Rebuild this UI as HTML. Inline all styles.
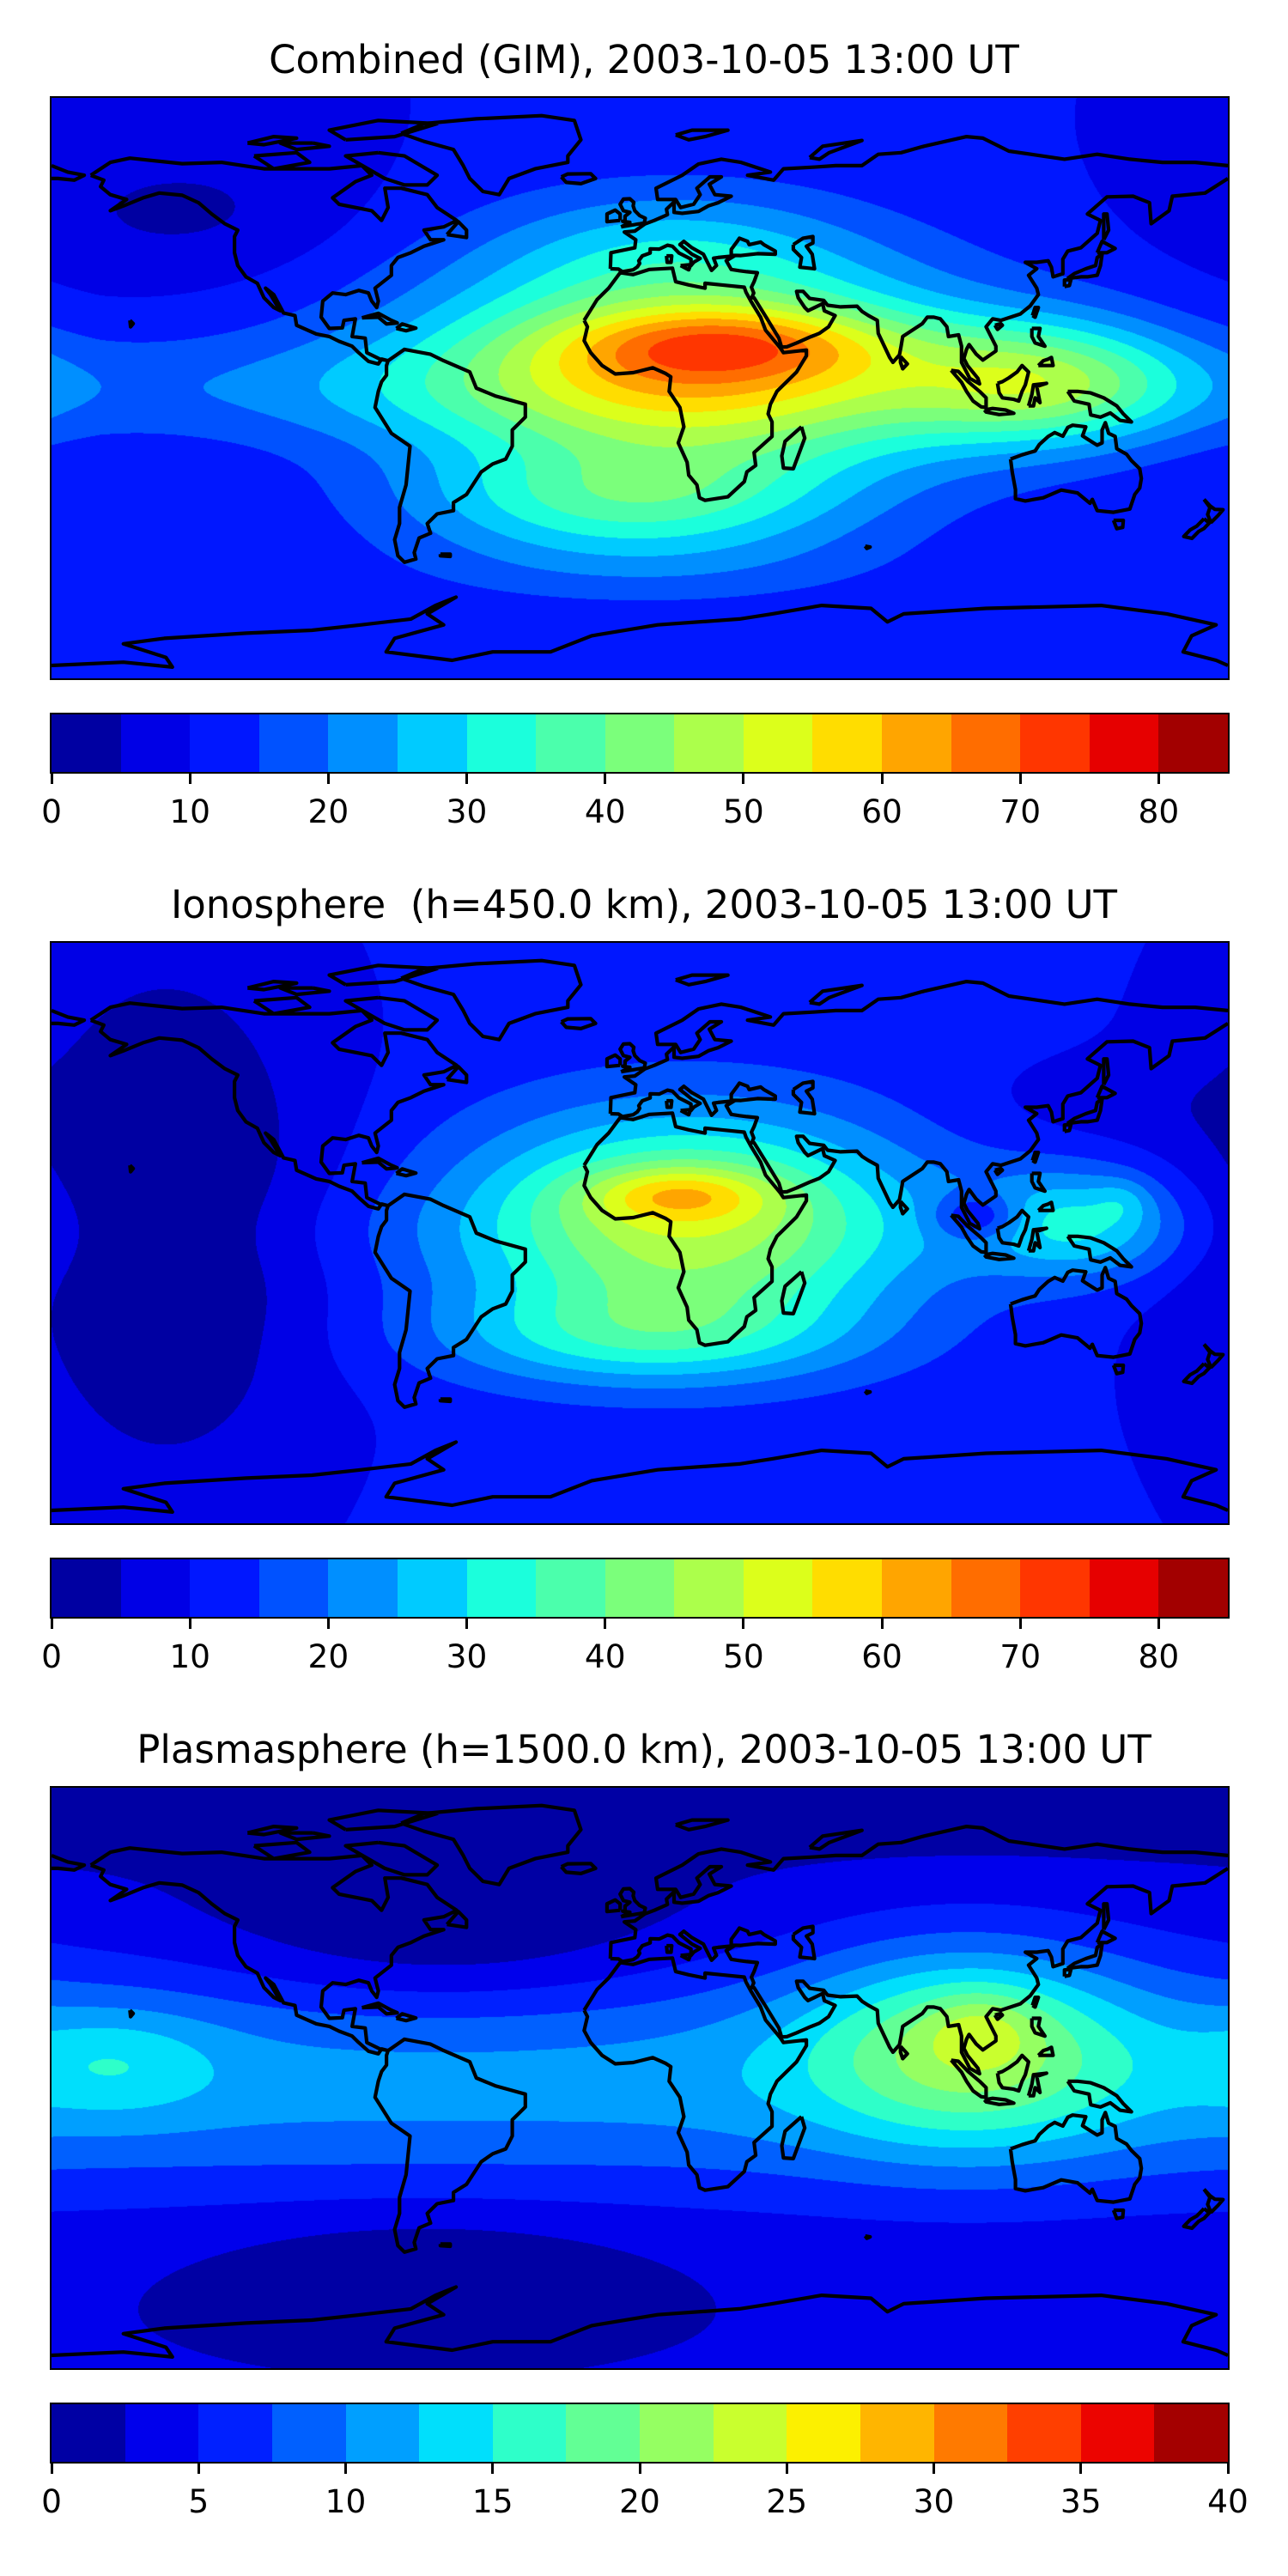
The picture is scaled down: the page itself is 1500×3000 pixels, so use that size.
<!DOCTYPE html>
<html><head><meta charset="utf-8">
<style>
html,body{margin:0;padding:0;background:#fff;}
body{width:1500px;height:3000px;position:relative;overflow:hidden;font-family:"DejaVu Sans","Liberation Sans",sans-serif;}
.title{position:absolute;left:0;width:1500px;text-align:center;font-size:45px;line-height:54px;color:#000;white-space:pre;}
.map{position:absolute;left:60px;width:1370px;height:676px;}
.map canvas{position:absolute;left:0;top:0;}
.map svg{position:absolute;left:0;top:0;}
.frame{position:absolute;left:-2px;top:-2px;width:1370px;height:676px;border:2px solid #000;}
.cbar{position:absolute;left:60px;width:1370px;height:67px;}
.cbar .seg{position:absolute;top:0;height:67px;}
.cbar .cframe{position:absolute;left:-2px;top:-2px;width:1370px;height:67px;border:2px solid #000;}
.tick{position:absolute;width:3px;height:14px;background:#000;}
.tlabel{position:absolute;font-size:37.5px;line-height:44px;width:120px;text-align:center;color:#000;}
</style></head>
<body>
<div id="root"></div>
<script>
// ---- data ----
const panelTitles = ["Combined (GIM), 2003-10-05 13:00 UT","Ionosphere  (h=450.0 km), 2003-10-05 13:00 UT","Plasmasphere (h=1500.0 km), 2003-10-05 13:00 UT"];
const levelSteps = [5,5,2.5];
const levelCounts = [17,17,16];
const tickValues12 = [0,10,20,30,40,50,60,70,80];
const tickValues3 = [0,5,10,15,20,25,30,35,40];
const baseValues = [10,11,2.6];
const bandAmps = [8,2,8.5];
const bandWidths = [12,12,26];
// blobs: [lon, lat, amplitude, lonWidth, latWidth]
const blobs1 = [[15,5,42,60,25],[28,14,20,35,8],[125,2,24,30,14],[-5,-35,18,45,11],[10,45,9,40,14],[0,-55,7,55,10],[-140,55,-6,35,15]];
const blobs2 = [[15,3,36,48,24],[12,12,16,20,6],[135,3,18,22,12],[103,5,-14,9,5],[148,10,5,6,5],[-145,5,-12,35,60],[0,-32,16,45,11],[140,40,-3,30,10]];
const blobs3 = [[100,10,11,35,22],[105,15,4,12,8],[-60,45,-4,50,20],[-65,-60,-3,45,13],[-160,5,4,22,12],[0,90,-3,1000,12]];
const allBlobs = [blobs1,blobs2,blobs3];

const coasts = [
[[-168,66],[-162,70],[-156,71.3],[-140,69.6],[-128,70],[-115,68],[-95,68],[-85,69],[-82,66],[-87,64],[-94,59],[-92,57],[-82,55],[-79,52],[-77,56],[-78,62],[-73,62],[-65,60],[-62,56],[-56,52],[-60,50],[-66,49],[-64,46],[-60,46],[-66,44],[-70,42],[-74,40.5],[-76,38],[-76,35],[-81,31],[-80,27],[-80.5,25],[-82,27],[-83,29.5],[-86,30.3],[-90,29],[-94,29.5],[-97,27],[-97.5,22],[-95,18.5],[-91,18.7],[-90.5,21],[-87,21.5],[-88,16],[-84,15.5],[-83.5,11],[-79.5,9],[-77,8.5],[-79,9],[-80,7.5],[-83,8.3],[-86,11],[-88,13],[-92,14.5],[-95,16],[-99,16.8],[-105,19.5],[-105.5,22.5],[-109,23.3],[-112,29],[-114.5,31],[-113,29],[-110,24],[-112,25],[-115,28],[-117,32.5],[-120.5,34.5],[-123,38],[-124,42],[-124,47],[-123,49],[-127,51],[-131,54],[-135,57.5],[-140,59.8],[-147,60.5],[-152,59],[-158,56.5],[-162,55],[-157,58.5],[-162,60],[-165,62.5],[-164,64.5],[-168,66]],
[[-73,79],[-66,82],[-50,83.5],[-30,84.5],[-20,83],[-18,77],[-22,72],[-22,70],[-32,68],[-40,65],[-43,60],[-48,61],[-52,65],[-54,69],[-57,74],[-66,76.5],[-73,79]],
[[-80,73],[-72,72],[-62,66],[-65,63],[-72,63],[-78,65],[-90,72],[-80,73]],
[[-118,72],[-105,73],[-101,70],[-112,68],[-118,72]],
[[-90,77],[-75,78],[-62,82],[-80,83],[-95,80],[-90,77]],
[[-100,76],[-95,75],[-105,74],[-110,76],[-100,76]],
[[-120,76],[-112,78],[-105,77.5],[-115,75.5],[-120,76]],
[[-77,8.5],[-72,12],[-64,10.5],[-60,8.5],[-52,5],[-50,0],[-44,-2.5],[-35,-5],[-35,-9],[-39,-13],[-39,-18],[-41,-22],[-45,-23.5],[-48.5,-26],[-53,-33],[-57,-35.5],[-57,-38],[-62,-39],[-65,-42],[-64,-45],[-67.5,-46.5],[-69,-51],[-68.5,-53],[-72,-54],[-74,-52],[-75,-47],[-73.5,-42],[-73.5,-37],[-71.5,-30],[-70.3,-18],[-76,-14],[-81,-6],[-80,-1],[-79,2],[-77.5,4],[-77.5,7],[-77,8.5]],
[[-17,21],[-13,27.5],[-9.5,31],[-6,35.8],[-2,35.2],[3,36.8],[10,37.2],[11,33],[15,32],[20,31],[20,32.5],[25,32],[32,31.3],[32.5,29.8],[34,27],[37,22],[38.5,18],[43,12.5],[44,11],[51,11.8],[51,10],[48,5],[42,-1],[40,-5],[39.3,-8],[40.5,-10.5],[40.5,-15],[35,-20],[35.5,-24],[32.8,-26],[32,-29],[27,-33.7],[20,-34.8],[18.3,-34],[17.5,-30],[15,-27],[14.5,-23],[11.8,-17],[13.5,-12],[12.3,-6],[9,-1],[9.5,3.5],[8,4.5],[4,6.3],[-2,4.8],[-7.5,4.4],[-11.5,7],[-15,11],[-17,14.7],[-16,19],[-17,21]],
[[49.5,-12],[50.5,-15.5],[47,-25],[44,-24.8],[43.5,-21],[44.5,-16.5],[49.5,-12]],
[[-9,37],[-8.8,42],[-1.5,43.5],[-1.2,46],[-4.7,48.4],[-1.5,48.7],[1.6,50.9],[4.5,52],[8.5,53.8],[8.2,55.5],[10.5,57.7],[10.5,54.5],[13,54.2],[18,54.8],[21,56.5],[24,57.5],[28,59.5],[23,60],[21.3,63.2],[25,65.5],[21.5,65.5],[17.5,62],[18.5,60],[16.5,57],[12.5,56],[11,58.5],[5.5,58.5],[5,62],[13,66],[18,69.5],[25,71],[31,70],[40,67],[33,66],[41,64.5],[44,68],[53,68.5],[60,69],[68,69],[73,72.5],[80,73],[87,75],[100,78],[105,77.5],[113,73.5],[130,71],[140,72.5],[150,71],[160,70],[170,70],[180,69]],
[[180,65],[173,60.5],[163,59.5],[162,55],[156.5,51],[156,57.5],[151,59.5],[143,59.3],[137,54],[141,52],[140,48],[135,43.5],[131,42.5],[129.5,40],[129.5,35.5],[126.5,34.5],[126,37.5],[125,39.5],[121.5,39],[118,39],[121.5,37],[119,35],[121.5,31],[122,29],[119.5,25.5],[116.5,23],[110.5,21],[108,21.5],[106,19],[109,13],[109,11.5],[105,8.7],[103,10.5],[100.8,13.5],[100,12],[99.2,9.2],[100.3,7],[103.5,3],[104,1.3],[101,3],[98.5,8],[98.5,13],[97.6,16.5],[94.5,16],[94,19],[92,21.5],[90,22],[88,22],[86.5,20],[80.5,16],[80,13],[79.5,10.3],[77.5,8],[76.5,9.5],[73,17],[72.7,21],[70,22.5],[68,23.8],[66.5,25.4],[61.5,25.2],[57.5,25.7],[56.3,27.2],[52,27.8],[50,30],[48,30],[48.5,28],[50.5,25],[51.5,24],[56,26.2],[56.5,24],[59.8,22.5],[57.8,19],[55,17],[52,15.8],[48,14],[45,12.8],[43.4,12.7],[42.6,15.5],[39,21.5],[35,28],[34.3,28],[34.9,29.5],[34.2,31.3],[35,33],[36,35.8],[32.8,36.1],[30.5,36.4],[28,36.8],[26.5,39.5],[29,41],[26,40.7],[24,40.5],[22.6,40.3],[23.5,38],[22,36.5],[21,38.5],[19.5,41.5],[16,43.5],[13.5,45.5],[12.3,44.5],[16,41.5],[18.5,40.2],[16.5,39],[15.7,38],[15.7,40],[12,41.9],[10,44],[8.5,44.3],[6,43.1],[3.2,43.2],[3.2,41.9],[0.8,41],[-0.3,39.5],[0,38.7],[-0.7,37.6],[-2,36.7],[-5.3,36.1],[-6.5,36.9],[-9,37]],
[[-180,69],[-175,67],[-170,66],[-173,64.5],[-178,65],[-180,65]],
[[28,41.2],[31,41.1],[36,41.7],[41.5,41.5],[41.5,42.5],[38,44.5],[37,45.3],[33.5,44.5],[33,45.5],[30.5,46.5],[29.7,45.3],[28,43],[28,41.2]],
[[47,44.5],[50,46.5],[53,47],[53,45],[51,44],[52.8,41.5],[53.5,37],[49,37.5],[49.5,40.5],[47,43],[47,44.5]],
[[-5.7,50],[1.4,51.2],[1.7,52.7],[0,53.5],[-1.5,55],[-2,56.5],[-1.8,57.6],[-3,58.7],[-5,58.6],[-6,57],[-5,55],[-3,54.5],[-4.5,53.3],[-4.5,52],[-5.2,51.7],[-3,51.4],[-5.7,50]],
[[-6,52],[-6,54],[-7.5,55.2],[-10,54],[-10,51.6],[-6,52]],
[[-24,65.5],[-22,66.4],[-15,66.5],[-13.5,65],[-18,63.4],[-22.5,63.8],[-24,65.5]],
[[130.9,34],[135,34.5],[137,34.5],[140,35],[141,38],[141.5,41.5],[140,40.5],[139.5,38],[136.5,37],[133,35.5],[130.9,34]],
[[140,42],[141.5,45.5],[145.5,43.3],[143,42],[140,42]],
[[130,31.5],[131.5,31.8],[132,33.8],[130,33.5],[130,31.5]],
[[120.2,22.5],[121,25],[122,25],[121,22],[120.2,22.5]],
[[108.7,19.5],[110.5,20],[111,19.5],[109.5,18.2],[108.7,19.5]],
[[142,46],[143.5,49],[143,54],[142,54],[142,48],[142,46]],
[[120,18.5],[122.5,18.5],[122,16],[124,13],[121,14],[120,16],[120,18.5]],
[[122,7],[126.5,7],[126,9.5],[125,9],[123.5,8.5],[122,7]],
[[109.5,1.5],[111,2],[113,3.2],[115.5,5],[117,7],[119,5],[118,1],[117,-1],[116,-4],[114.5,-3.5],[111,-3],[110,-1.5],[109.5,1.5]],
[[95.3,5.5],[97.5,5.2],[100.5,2],[104,-1],[106,-3],[106,-6],[104.5,-5.8],[102,-4],[100,-1],[98.5,1.8],[95.3,5.5]],
[[105.5,-6.8],[108,-6.3],[112,-6.8],[114.5,-7.8],[110,-8.2],[106,-7.4],[105.5,-6.8]],
[[119,-5.5],[120,-2],[120.5,1],[124.5,1.5],[121.5,0.5],[122.5,-4.5],[121,-3],[120.5,-5.5],[119,-5.5]],
[[131,-1],[134,-1],[138,-1.5],[142,-3],[146,-5.5],[148,-8],[150.5,-10.5],[147,-10],[144,-7.7],[141,-9],[138,-8.3],[137.5,-5],[133,-4],[131,-1]],
[[113.5,-22],[114,-26],[115,-31.5],[115,-34.3],[118,-35],[123.5,-34],[129,-31.6],[134,-32.5],[137.8,-35.7],[138.5,-34.5],[140,-38],[145,-38.5],[147.5,-38],[150,-37.5],[151.5,-33],[153,-31],[153.5,-28],[153,-25],[150.5,-22.5],[149,-20.5],[146,-18.8],[145.5,-15],[143.5,-14],[142.5,-10.7],[141.5,-13],[141.5,-17],[140,-17.7],[137,-15.8],[135.5,-14.8],[136.5,-12],[132.5,-11.5],[131,-12.2],[129.5,-14.9],[127,-13.8],[125,-15],[122.3,-17.5],[121,-19.5],[117,-20.7],[113.5,-22]],
[[145,-41],[148,-41],[147.8,-43.2],[146,-43.6],[145,-41]],
[[172.7,-34.5],[174.5,-36.5],[176,-37.6],[178.5,-37.7],[177,-39.5],[175,-41.5],[174.6,-41.2],[173.8,-39.2],[174.5,-37],[172.7,-34.5]],
[[172.7,-40.5],[174.3,-41.8],[172.7,-43.5],[171,-44.5],[169,-46.6],[166.5,-46],[168.4,-44],[170.5,-42.8],[172.7,-40.5]],
[[-180,-86],[-158,-85],[-143,-86.5],[-145,-83.5],[-158,-79.3],[-145.5,-77.6],[-120.4,-76],[-100.3,-75.1],[-85.2,-73.4],[-70,-71.6],[-62.5,-67.4],[-56.2,-64.8],[-65,-70],[-60,-73.4],[-75,-77.6],[-77.6,-81.8],[-57.4,-84.4],[-45,-81.8],[-27.3,-81.8],[-14.7,-76.8],[5.5,-73.4],[30.5,-71.6],[40.6,-70],[55.7,-67.4],[70.8,-68.3],[75.8,-72.5],[80.8,-70],[106,-68.3],[141.2,-67.4],[161.3,-70],[176.4,-73.4],[168.9,-76.8],[166.3,-81.8],[176.4,-84.4],[180,-86]],
[[-61,-51.5],[-58,-51.5],[-58,-52.2],[-61,-52],[-61,-51.5]],
[[-85,21.8],[-80,23.2],[-76,21],[-74.2,20.2],[-77.5,19.9],[-80,22],[-85,21.8]],
[[-74.5,18.5],[-72.7,19.9],[-68.5,18.6],[-71.5,17.8],[-74.5,18.5]],
[[-59,47.6],[-55.5,51.6],[-53,49],[-53,46.7],[-59,47.6]],
[[11,78.5],[16,80],[27,80],[20,78],[15,77],[11,78.5]],
[[52,71.5],[56,75],[68,76.8],[58,73],[55,71],[52,71.5]],
[[12.5,38],[15.6,38.3],[15,36.7],[12.5,38]],
[[8.2,41],[9.8,41],[9.6,39],[8.4,39],[8.2,41]],
[[79.8,9.8],[81.9,7.5],[80.5,6],[79.8,8],[79.8,9.8]],
[[-156,21],[-155,20],[-155.8,19],[-156,21]],
[[69,-49],[70.5,-49.3],[69.5,-49.7],[69,-49]]
];

// ---- layout ----
const MAPW = 1370, MAPH = 676, LEFT = 60;
const panelTops = [0,984,1968];

function jet(t){
  function seg(pts){for(let i=1;i<pts.length;i++){if(t<=pts[i][0]){const a=pts[i-1],b=pts[i];return a[1]+(b[1]-a[1])*(t-a[0])/(b[0]-a[0]);}}return pts[pts.length-1][1];}
  const r=seg([[0,0],[0.35,0],[0.66,1],[0.89,1],[1,0.5]]);
  const g=seg([[0,0],[0.125,0],[0.375,1],[0.64,1],[0.91,0],[1,0]]);
  const b=seg([[0,0.5],[0.11,1],[0.34,1],[0.65,0],[1,0]]);
  return [Math.round(r*255),Math.round(g*255),Math.round(b*255)];
}
function xOf(lon){return (lon+180)/360*MAPW;}
function yOf(lat){return (90-lat)/180*MAPH;}

const root = document.getElementById('root');
let pathD = '';
coasts.forEach(c=>{ pathD += 'M'+c.map(p=>xOf(p[0]).toFixed(1)+' '+yOf(p[1]).toFixed(1)).join('L'); });

for(let p=0;p<3;p++){
  const top = panelTops[p];
  const n = levelCounts[p], step = levelSteps[p];
  const colors = []; for(let i=0;i<n;i++) colors.push(jet((i+0.5)/n));

  const title = document.createElement('div');
  title.className='title'; title.style.top=(top+70-27)+'px'; title.textContent=panelTitles[p];
  
  
  root.appendChild(title);

  const map = document.createElement('div');
  map.className='map'; map.style.top=(top+114)+'px';
  
  
  const cv = document.createElement('canvas'); cv.width=MAPW; cv.height=MAPH;
  
  
  const ctx = cv.getContext('2d'); const img = ctx.createImageData(MAPW,MAPH);
  const bl = allBlobs[p];
  for(let y=0;y<MAPH;y++){
    const lat = 90-(y+0.5)/MAPH*180;
    const band = baseValues[p] + bandAmps[p]*Math.exp(-0.5*Math.pow(lat/bandWidths[p],2));
    const latTerms = bl.map(b=>Math.exp(-0.5*Math.pow((lat-b[1])/b[4],2))*b[2]);
    for(let x=0;x<MAPW;x++){
      const lon = -180+(x+0.5)/MAPW*360;
      let v = band;
      for(let k=0;k<bl.length;k++){
        let d = lon-bl[k][0]; d = ((d+540)%360)-180;
        v += latTerms[k]*Math.exp(-0.5*(d/bl[k][3])*(d/bl[k][3]));
      }
      let bi = Math.floor(v/step); if(bi<0)bi=0; if(bi>n-1)bi=n-1;
      const c = colors[bi], o=(y*MAPW+x)*4;
      img.data[o]=c[0]; img.data[o+1]=c[1]; img.data[o+2]=c[2]; img.data[o+3]=255;
    }
  }
  ctx.putImageData(img,0,0);
  map.appendChild(cv);
  const svgNS='http://www.w3.org/2000/svg';
  const svg=document.createElementNS(svgNS,'svg'); svg.setAttribute('width',MAPW); svg.setAttribute('height',MAPH);
  
  
  const path=document.createElementNS(svgNS,'path'); path.setAttribute('d',pathD);
  path.setAttribute('fill','none'); path.setAttribute('stroke','#000'); path.setAttribute('stroke-width','4.2'); path.setAttribute('stroke-linejoin','round');
  
  
  svg.appendChild(path); map.appendChild(svg);
  const fr=document.createElement('div'); fr.className='frame';
  
  
  map.appendChild(fr);
  root.appendChild(map);

  const cb=document.createElement('div'); cb.className='cbar'; cb.style.top=(top+832)+'px';
  
  
  const vmax = n*step;
  for(let i=0;i<n;i++){
    const s=document.createElement('div'); s.className='seg';
    const x0=i*step/vmax*MAPW, x1=(i+1)*step/vmax*MAPW;
    s.style.left=x0+'px'; s.style.width=(x1-x0+0.6)+'px';
    s.style.background='rgb('+colors[i].join(',')+')';
    
    
    cb.appendChild(s);
  }
  const cf=document.createElement('div'); cf.className='cframe';
  
  
  cb.appendChild(cf);
  root.appendChild(cb);

  const ticks = p<2 ? tickValues12 : tickValues3;
  ticks.forEach(t=>{
    const x = LEFT + t/vmax*MAPW;
    const tk=document.createElement('div'); tk.className='tick';
    tk.style.left=(x-1.5)+'px'; tk.style.top=(top+899)+'px';
    
    
    root.appendChild(tk);
    const lb=document.createElement('div'); lb.className='tlabel';
    lb.style.left=(x-60)+'px'; lb.style.top=(top+945-22)+'px'; lb.textContent=t;
    
    
    root.appendChild(lb);
  });
}
</script>
</body></html>
